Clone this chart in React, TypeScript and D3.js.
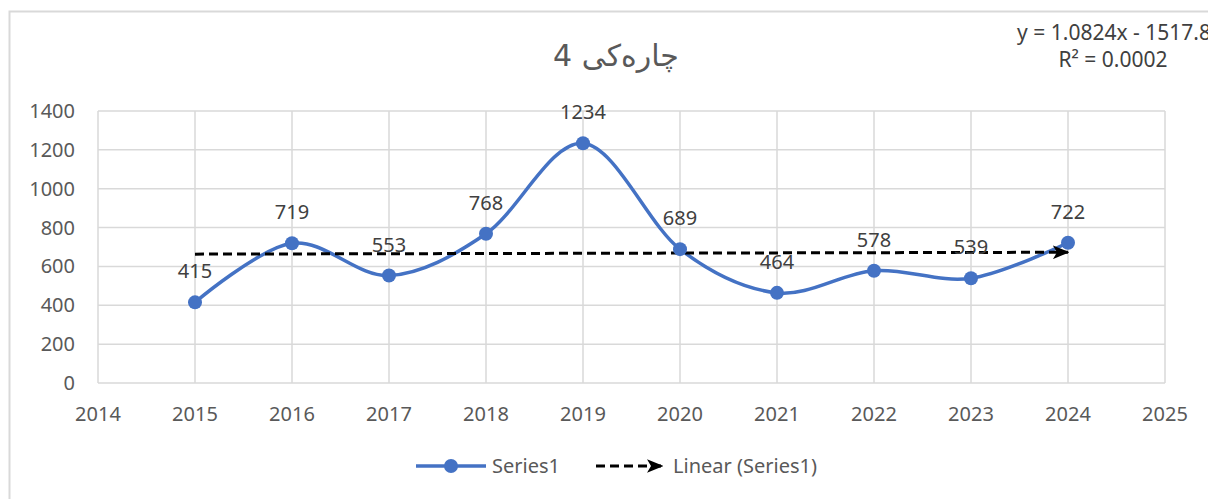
import { useEffect, useRef } from 'react';
import * as d3 from 'd3';

const years = [2015, 2016, 2017, 2018, 2019, 2020, 2021, 2022, 2023, 2024];
const values = [415, 719, 553, 768, 1234, 689, 464, 578, 539, 722];
const xTicks = [2014, 2015, 2016, 2017, 2018, 2019, 2020, 2021, 2022, 2023, 2024, 2025];
const yTicks = [0, 200, 400, 600, 800, 1000, 1200, 1400];
const trendSlope = 1.0824;
const trendIntercept = -1517.8;
const title = 'چارەکی 4';
const equation = 'y = 1.0824x - 1517.8';
const rSquared = 'R² = 0.0002';
const seriesName = 'Series1';
const trendName = 'Linear (Series1)';

const WIDTH = 1208;
const HEIGHT = 499;
const BLUE = '#4472C4';
const GRID = '#d9d9d9';
const TEXT = '#595959';
const FONT = '"Noto Sans", "Open Sans", sans-serif';

export default function App() {
  const svgRef = useRef<SVGSVGElement>(null);

  useEffect(() => {
    if (!svgRef.current) return;
    const svg = d3.select(svgRef.current);
    svg.selectAll('*').remove();

    const x = d3.scaleLinear().domain([2014, 2025]).range([98, 1165]);
    const y = d3.scaleLinear().domain([0, 1400]).range([383, 111]);

    // arrow head for the trend line
    const defs = svg.append('defs');
    defs.append('marker')
      .attr('id', 'arrow')
      .attr('viewBox', '0 0 12 10')
      .attr('refX', 11)
      .attr('refY', 5)
      .attr('markerWidth', 5.5)
      .attr('markerHeight', 4.6)
      .attr('markerUnits', 'strokeWidth')
      .attr('orient', 'auto')
      .append('path')
      .attr('d', 'M0,0 L12,5 L0,10 L3,5 Z')
      .attr('fill', '#000');

    // chart area border
    svg.append('rect')
      .attr('x', 9.5)
      .attr('y', 11.5)
      .attr('width', WIDTH)
      .attr('height', HEIGHT)
      .attr('fill', '#fff')
      .attr('stroke', GRID)
      .attr('stroke-width', 2);

    // gridlines
    svg.append('g')
      .selectAll('line.h')
      .data(yTicks)
      .enter().append('line')
      .attr('x1', x(2014))
      .attr('x2', x(2025))
      .attr('y1', d => y(d))
      .attr('y2', d => y(d))
      .attr('stroke', GRID)
      .attr('stroke-width', 1.5);

    svg.append('g')
      .selectAll('line.v')
      .data(xTicks)
      .enter().append('line')
      .attr('x1', d => x(d))
      .attr('x2', d => x(d))
      .attr('y1', y(0))
      .attr('y2', y(1400))
      .attr('stroke', GRID)
      .attr('stroke-width', 1.5);

    // axis labels
    svg.append('g')
      .selectAll('text')
      .data(yTicks)
      .enter().append('text')
      .attr('x', 75)
      .attr('y', d => y(d))
      .attr('dy', '0.35em')
      .attr('text-anchor', 'end')
      .attr('font-family', FONT)
      .attr('font-size', 20)
      .attr('fill', TEXT)
      .text(d => d);

    svg.append('g')
      .selectAll('text')
      .data(xTicks)
      .enter().append('text')
      .attr('x', d => x(d))
      .attr('y', 414)
      .attr('dy', '0.35em')
      .attr('text-anchor', 'middle')
      .attr('font-family', FONT)
      .attr('font-size', 20)
      .attr('fill', TEXT)
      .text(d => d);

    // series line
    const pts = years.map((yr, i) => [yr, values[i]] as [number, number]);
    const line = d3.line<[number, number]>()
      .x(d => x(d[0]))
      .y(d => y(d[1]))
      .curve(d3.curveCardinal.tension(0));

    svg.append('path')
      .datum(pts)
      .attr('fill', 'none')
      .attr('stroke', BLUE)
      .attr('stroke-width', 3.5)
      .attr('d', line);

    // trend line
    const first = years[0];
    const last = years[years.length - 1];
    svg.append('line')
      .attr('x1', x(first))
      .attr('y1', y(trendSlope * first + trendIntercept))
      .attr('x2', x(last))
      .attr('y2', y(trendSlope * last + trendIntercept))
      .attr('stroke', '#000')
      .attr('stroke-width', 3)
      .attr('stroke-dasharray', '9,5')
      .attr('marker-end', 'url(#arrow)');

    // markers
    svg.append('g')
      .selectAll('circle')
      .data(pts)
      .enter().append('circle')
      .attr('cx', d => x(d[0]))
      .attr('cy', d => y(d[1]))
      .attr('r', 7)
      .attr('fill', BLUE);

    // data labels
    svg.append('g')
      .selectAll('text')
      .data(pts)
      .enter().append('text')
      .attr('x', d => x(d[0]))
      .attr('y', d => y(d[1]) - 31)
      .attr('dy', '0.35em')
      .attr('text-anchor', 'middle')
      .attr('font-family', FONT)
      .attr('font-size', 20)
      .attr('fill', '#404040')
      .text(d => d[1]);

    // title
    svg.append('text')
      .attr('x', 616)
      .attr('y', 55)
      .attr('dy', '0.35em')
      .attr('text-anchor', 'middle')
      .attr('direction', 'rtl')
      .attr('font-family', '"DejaVu Sans", sans-serif')
      .attr('font-size', 30)
      .attr('fill', TEXT)
      .text(title);

    // trendline equation
    svg.append('text')
      .attr('x', 1114)
      .attr('y', 33)
      .attr('dy', '0.35em')
      .attr('text-anchor', 'middle')
      .attr('font-family', FONT)
      .attr('font-size', 21)
      .attr('fill', '#404040')
      .text(equation);
    svg.append('text')
      .attr('x', 1113)
      .attr('y', 60)
      .attr('dy', '0.35em')
      .attr('text-anchor', 'middle')
      .attr('font-family', FONT)
      .attr('font-size', 21)
      .attr('fill', '#404040')
      .text(rSquared);

    // legend
    const lg = svg.append('g');
    lg.append('line')
      .attr('x1', 416).attr('x2', 486)
      .attr('y1', 466).attr('y2', 466)
      .attr('stroke', BLUE).attr('stroke-width', 3.5);
    lg.append('circle')
      .attr('cx', 451).attr('cy', 466).attr('r', 7).attr('fill', BLUE);
    lg.append('text')
      .attr('x', 492).attr('y', 466).attr('dy', '0.35em')
      .attr('font-family', FONT).attr('font-size', 20).attr('fill', TEXT)
      .text(seriesName);
    lg.append('line')
      .attr('x1', 596).attr('x2', 662)
      .attr('y1', 466).attr('y2', 466)
      .attr('stroke', '#000').attr('stroke-width', 3)
      .attr('stroke-dasharray', '9,5')
      .attr('marker-end', 'url(#arrow)');
    lg.append('text')
      .attr('x', 673).attr('y', 466).attr('dy', '0.35em')
      .attr('font-family', FONT).attr('font-size', 20).attr('fill', TEXT)
      .text(trendName);
  }, []);

  return (
    <svg
      ref={svgRef}
      width={WIDTH}
      height={HEIGHT}
      style={{ position: 'absolute', left: 0, top: 0, background: '#fff' }}
    />
  );
}
